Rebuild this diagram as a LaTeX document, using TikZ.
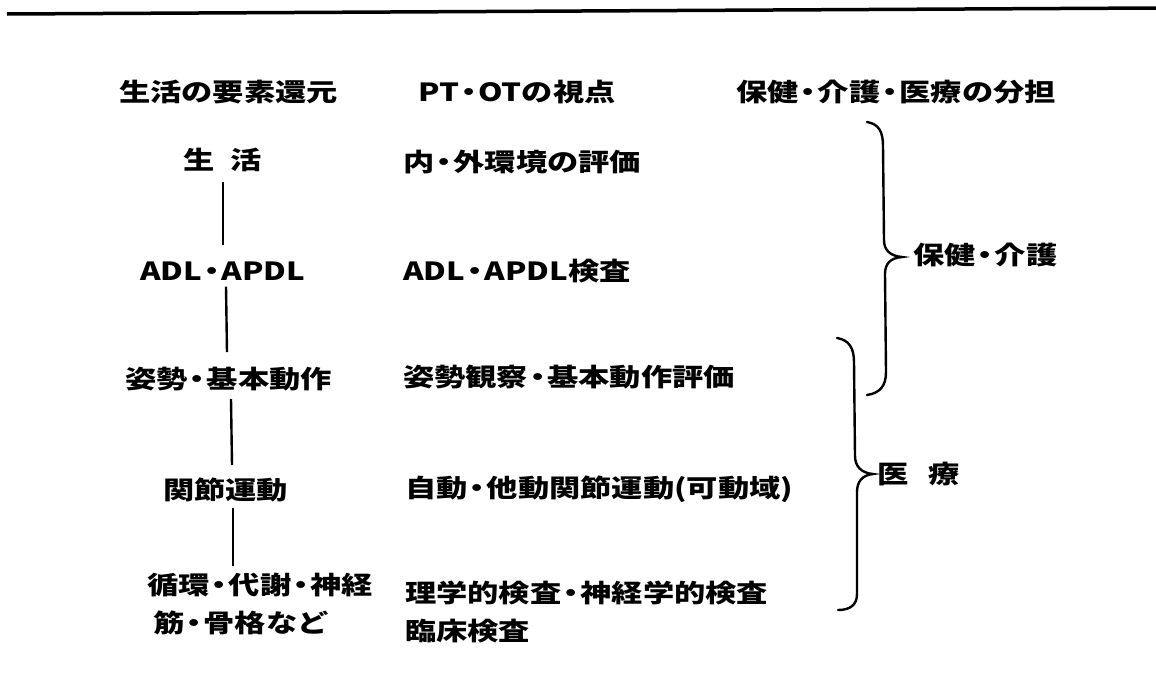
\documentclass[tikz,border=0pt]{standalone}
\usepackage{fontspec}
\newfontfamily\jp[FakeStretch=1.25]{Noto Sans CJK JP}
\newcommand\ndot{\kern-6pt・\kern-6pt}
\begin{document}
\begin{tikzpicture}[x=1pt,y=-1pt,
  txt/.style={font=\jp\bfseries\fontsize{25}{38}\selectfont, inner sep=0pt, anchor=west, align=left},
  conn/.style={line width=2.4pt},
  brace/.style={line width=2.4pt, line cap=round}]
\useasboundingbox (0,0) rectangle (1156,672);
% top rule
\coordinate (r1) at (7,14);
\coordinate (r2) at (1156,8);
\draw[line width=3.5pt] (r1) -- (r2);
% headers
\node[txt] (h1) at (119,92) {生活の要素還元};
\node[txt] (h2) at (418,92) {PT\ndot OTの視点};
\node[txt] (h3) at (736,92) {保健\ndot 介護\ndot 医療の分担};
% left column
\node[txt] (l1) at (183,160) {生\hspace{16pt}活};
\node[txt] (l2) at (140,271) {ADL\ndot APDL};
\node[txt] (l3) at (125,379) {姿勢\ndot 基本動作};
\node[txt] (l4) at (163,490) {関節運動};
\node[txt] (l5) at (147,604) {循環\ndot 代謝\ndot 神経\\\hspace*{6pt}筋\ndot 骨格など};
% middle column
\node[txt] (m1) at (403,162) {内\ndot 外環境の評価};
\node[txt] (m2) at (403,271) {ADL\ndot APDL検査};
\node[txt] (m3) at (403,377) {姿勢観察\ndot 基本動作評価};
\node[txt] (m4) at (405,489) {自動\ndot 他動関節運動(可動域)};
\node[txt] (m5) at (405,612) {理学的検査\ndot 神経学的検査\\臨床検査};
% connectors
\draw[conn] (l1.south -| 223,0) ++(0,10) coordinate (c1a) -- (223,245) coordinate (c1b);
\draw[conn] (c1b |- l2.south) ++(3,6) -- (227,352);
\draw[conn] (l3.south -| 231,0) ++(0,8) -- (232,465);
\draw[conn] (l4.south -| 233,0) ++(0,6) -- (233,566);
% braces
\draw[brace] (867,122) .. controls (879,124) and (883,132) .. (883,146)
  -- (884,240) .. controls (884,250) and (890,256) .. (902,257)
  .. controls (890,258) and (885,264) .. (885,274)
  -- (886,372) .. controls (886,386) and (880,393) .. (867,395);
\draw[brace] (837,338) .. controls (849,340) and (854,348) .. (854,362)
  -- (855,456) .. controls (855,466) and (861,473) .. (873,474)
  .. controls (862,475) and (857,482) .. (857,492)
  -- (857,594) .. controls (857,605) and (850,610) .. (838,610);
\node[txt] (b1) at (913,255) {保健\ndot 介護};
\node[txt] (b2) at (877,474) {医\hspace{20pt}療};
\end{tikzpicture}
\end{document}
